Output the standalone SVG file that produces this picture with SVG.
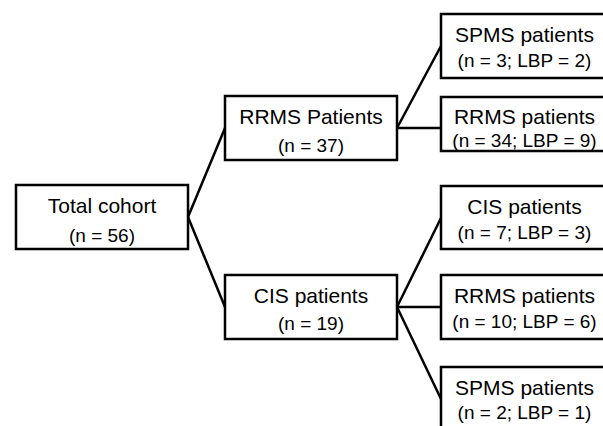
<svg xmlns="http://www.w3.org/2000/svg" width="603" height="426" viewBox="0 0 603 426">
<style>
.box{fill:#fff;stroke:#000;stroke-width:2.5}
.conn{fill:none;stroke:#000;stroke-width:2.5}
text{font-family:"Liberation Sans",Arial,sans-serif;fill:#000;text-anchor:middle}
.t1{font-size:21px}
.t2{font-size:19px}
</style>
<rect width="603" height="426" fill="#fff"/>
<g id="connectors">
<path class="conn" d="M188,217 L225,128"/>
<path class="conn" d="M188,217 L225,307"/>
<path class="conn" d="M397,128 L441,46"/>
<path class="conn" d="M397,128 L441,128"/>
<path class="conn" d="M397,307 L441,218"/>
<path class="conn" d="M397,307 L441,307"/>
<path class="conn" d="M397,307 L441,399"/>
</g>
<g id="total">
<rect class="box" x="16" y="185" width="172" height="64"/>
<text class="t1" x="102" y="213">Total cohort</text>
<text class="t2" x="102" y="242">(n = 56)</text>
</g>
<g id="rrms">
<rect class="box" x="225" y="96" width="172" height="64"/>
<text class="t1" x="311" y="124">RRMS Patients</text>
<text class="t2" x="311" y="152">(n = 37)</text>
</g>
<g id="cis">
<rect class="box" x="225" y="275" width="172" height="64"/>
<text class="t1" x="311" y="303">CIS patients</text>
<text class="t2" x="311" y="330">(n = 19)</text>
</g>
<g id="rrms-spms">
<rect class="box" x="441" y="14" width="172" height="64"/>
<text class="t1" x="524.5" y="42">SPMS patients</text>
<text class="t2" x="524.5" y="67">(n = 3; LBP = 2)</text>
</g>
<g id="rrms-rrms">
<rect class="box" x="441" y="97" width="172" height="54"/>
<text class="t1" x="524.5" y="124">RRMS patients</text>
<text class="t2" x="524.5" y="147">(n = 34; LBP = 9)</text>
</g>
<g id="cis-cis">
<rect class="box" x="441" y="186" width="172" height="63"/>
<text class="t1" x="524.5" y="214">CIS patients</text>
<text class="t2" x="524.5" y="239">(n = 7; LBP = 3)</text>
</g>
<g id="cis-rrms">
<rect class="box" x="441" y="275" width="172" height="64"/>
<text class="t1" x="524.5" y="303">RRMS patients</text>
<text class="t2" x="524.5" y="328">(n = 10; LBP = 6)</text>
</g>
<g id="cis-spms">
<rect class="box" x="441" y="367" width="172" height="64"/>
<text class="t1" x="524.5" y="395">SPMS patients</text>
<text class="t2" x="524.5" y="419">(n = 2; LBP = 1)</text>
</g>
</svg>
